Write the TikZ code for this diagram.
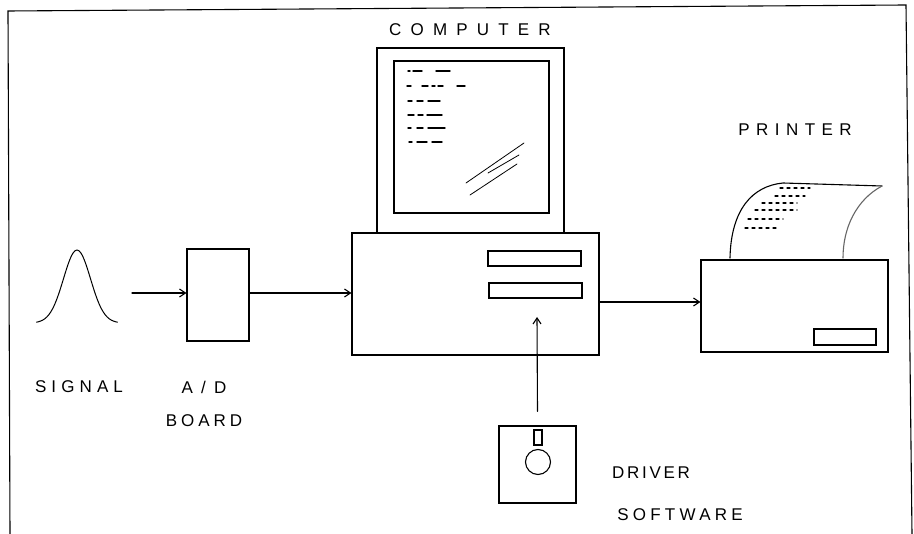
\documentclass[tikz,border=0pt]{standalone}
\usepackage{fontspec}
\setsansfont{Liberation Sans}
\usetikzlibrary{positioning,arrows.meta}

\begin{document}
\begin{tikzpicture}[%
    x=1pt, y=-1pt,
    line width=1.1pt,
    line cap=round,
    >={Straight Barb[length=6pt,width=8pt]},
    box/.style={%
      rectangle,
      inner sep=0pt,
      draw
    },
    lbl/.style={%
      font=\sffamily\fontsize{17}{17}\selectfont\addfontfeature{LetterSpace=#1}
    },
    lbl/.default=30,
    scribble/.style={line width=1.4pt}
  ]
    \useasboundingbox (0,0) rectangle (914,534);
    \draw (10,534) -- (8,11) -- (906,5) -- (912,534);

    % signal pulse
    \coordinate (sig) at (77,290);
    \draw[line width=1pt] plot[domain=-3:3, smooth, samples=41]
      ({77+13.5*\x}, {323-73*exp(-\x*\x/2)});
    \coordinate (sigout) at (132,293);

    \node[box, minimum width=62pt, minimum height=92pt] (ad)   at (218,295)     {};
    \node[box, minimum width=247pt, minimum height=122pt] (comp) at (475.5,294) {};
    \node[box, minimum width=187pt, minimum height=185pt] (mon)  at (470.5,140.5) {};
    \node[box, minimum width=155pt, minimum height=152pt] (scr)  at (471.5,137) {};
    \node[box, minimum width=93pt, minimum height=15pt]   (slota) at (534.5,258.5) {};
    \node[box, minimum width=93pt, minimum height=15pt]   (slotb) at (535.5,290.5) {};
    \node[box, minimum width=187pt, minimum height=92pt]  (prn)  at (794.5,306) {};
    \node[box, minimum width=62pt, minimum height=16pt]   (tray) at (845,337)   {};
    \node[box, minimum size=77pt]                          (disk) at (537.5,464.5) {};
    \node[draw, circle, inner sep=0pt, minimum size=25pt] (hub)  at (538,462)   {};
    \node[box, minimum width=8pt, minimum height=15pt]    (notch) at (538,437.5) {};

    % text on the screen
    \foreach \y/\segs in {71/{408/410,413/422,436/450},
                          86/{407/411,422/428,432/435,438/443,457/465},
                          101/{408/412,417/423,428/440},
                          115/{408/414,418/423,427/442},
                          128/{408/411,417/423,428/445},
                          142/{409/412,417/427,432/442}}
      \foreach \a/\b in \segs
        \draw[scribble] (\a,\y) -- (\b,\y);

    % glare on the screen
    \draw[line width=0.8pt] (466,183) -- (524,143);
    \draw[line width=0.8pt] (488,173) -- (519,155);
    \draw[line width=0.8pt] (470,195) -- (517,164);

    % paper coming out of the printer
    \draw (730,258) .. controls (731,210) and (752,186) .. (783,183) -- (882,186);
    \draw[black!60] (882,186) .. controls (856,200) and (843,228) .. (843,258);
    \foreach \y/\a/\b in {188/780/810, 196/775/805, 203/762/797,
                          210/755/797, 219/748/783, 228/745/778}
      \draw[line width=1.2pt, dash pattern=on 3pt off 4pt] (\a,\y) -- (\b,\y);

    % labels
    \node[lbl=54] (comptxt) at (470,30)  {COMPUTER};
    \node[lbl=38] (prntxt)  at (795,130) {PRINTER};
    \node[lbl]    (sigtxt)  at (79,387)  {SIGNAL};
    \node[lbl=49] (adtxt)   at (204,387) {A/D};
    \node[lbl=23] (boardtxt) [below=14pt of adtxt] {BOARD};
    \node[lbl=16] (drvtxt)  at (651,473) {DRIVER};
    \node[lbl=25] (swtxt)   at (680,515) {SOFTWARE};

    \coordinate (prnin) at ([yshift=4pt]prn.west);
    \coordinate (drvin) at (537,317);

    \path[->] (sigout)            edge (ad.west |- sigout)
              (ad.east |- sigout) edge (comp.west |- sigout)
              (comp.east |- prnin) edge (prnin)
              ([yshift=14pt]disk.north) edge (drvin);
\end{tikzpicture}
\end{document}
